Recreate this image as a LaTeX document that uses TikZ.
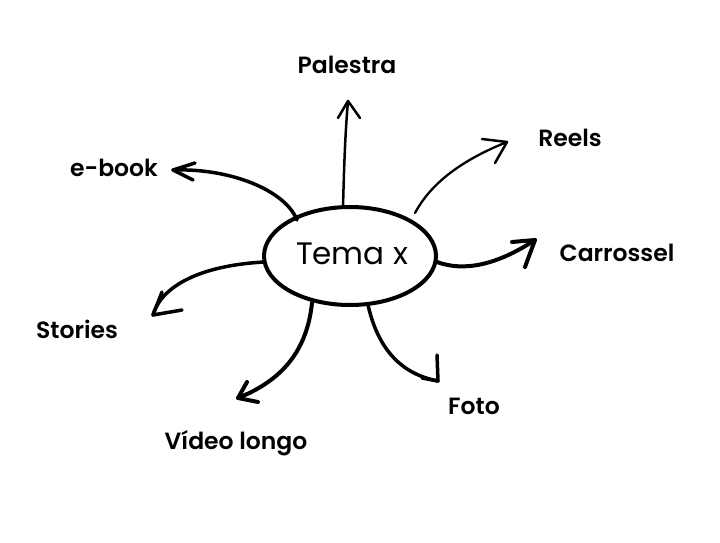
\documentclass[tikz,border=0pt]{standalone}
\usepackage{fontspec}
\usetikzlibrary{shapes.geometric}
\setmainfont{Poppins}
\newfontfamily\labfont{Poppins SemiBold}
\begin{document}
\begin{tikzpicture}[x=1pt,y=-1pt,
  lab/.style={font=\labfont\fontsize{23.5}{28}\selectfont, anchor=base, inner sep=0pt},
  arr/.style={line width=#1, line cap=round, line join=round},
  arr/.default=3.5pt]
\useasboundingbox (0,0) rectangle (720,543);
\fill[white] (0,0) rectangle (720,543);
% centre
\node[draw, ellipse, line width=4pt, minimum width=172pt, minimum height=98pt, inner sep=0pt] (c) at (350,256) {};
\node[anchor=base, inner sep=0pt, font=\fontsize{31}{36}\selectfont] (t) at (352,264) {Tema x};
% labels
\node[lab] (pal) at (347,74) {Palestra};
\node[lab] (reels) at (570,146) {Reels};
\node[lab] (car) at (617,261) {Carrossel};
\node[lab] (ebook) at (114,176) {e-book};
\node[lab] (sto) at (77,338) {Stories};
\node[lab] (vid) at (236,449) {Vídeo longo};
\node[lab] (foto) at (474,414) {Foto};
% tips
\coordinate (tpal) at (348,101);
\coordinate (treels) at (507,142);
\coordinate (tcar) at (535,240);
\coordinate (tebook) at (173,170);
\coordinate (tsto) at (153,315);
\coordinate (tvid) at (238,398);
\coordinate (tfoto) at (438,381);
% connectors
\draw[arr=2.5pt] (343,207) .. controls (344,170) and (345,135) .. (tpal);
\draw[arr=2.5pt] (338,118) -- (tpal) -- (360,118);
\draw[arr=2.3pt] (415,213) .. controls (431,183) and (462,160) .. (treels);
\draw[arr=2.5pt] (482,139) -- (treels) -- (495,163);
\draw[arr=4pt] (437,262) .. controls (464,272) and (497,265) .. (tcar);
\draw[arr=4pt] (512,242) -- (tcar) -- (525,267);
\draw[arr] (297,220) .. controls (285,190) and (230,168) .. (tebook);
\draw[arr] (195,163) -- (tebook) -- (193,180);
\draw[arr] (264,262) .. controls (193,266) and (160,290) .. (tsto);
\draw[arr] (162,292) -- (tsto) -- (182,310);
\draw[arr=4pt] (312,303) .. controls (307,350) and (283,380) .. (tvid);
\draw[arr=4pt] (247,382) -- (tvid) -- (258,402);
\draw[arr] (368,305) .. controls (378,349) and (401,374) .. (tfoto);
\draw[arr] (437,355) -- (tfoto) -- (422,378);
\end{tikzpicture}
\end{document}
